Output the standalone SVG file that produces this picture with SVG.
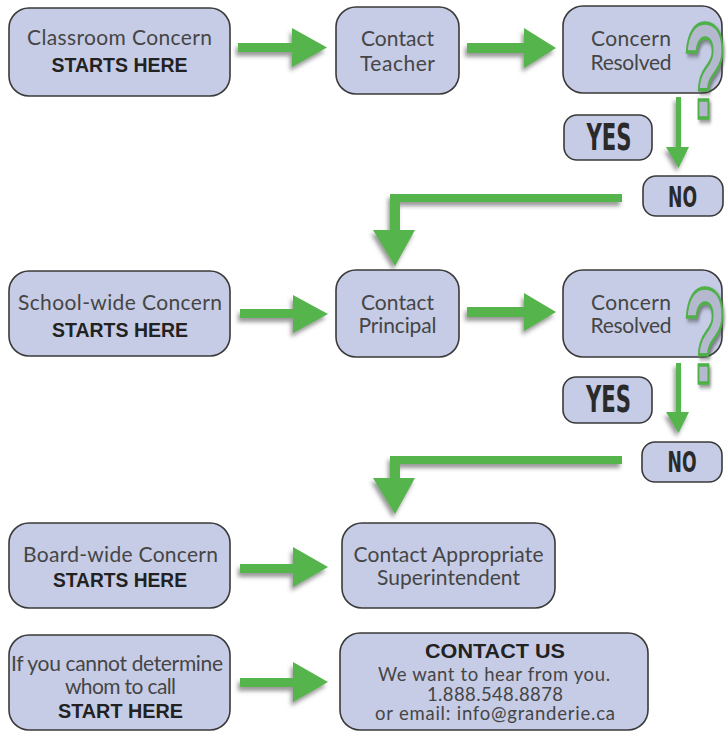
<svg xmlns="http://www.w3.org/2000/svg" width="728" height="732" viewBox="0 0 728 732">
<defs>
<style>
.box{fill:#c6cce6;stroke:#3a3a3a;stroke-width:1.6}
.arr{fill:#57b44e;filter:url(#sh)}
.t{font-family:Lato,'Open Sans',sans-serif;font-size:21px;fill:#454545;text-anchor:middle}
.s{font-family:Lato,'Open Sans',sans-serif;font-size:18.5px;fill:#454545;text-anchor:middle}
.b{font-family:'Liberation Sans',Arial,sans-serif;font-weight:bold;font-size:21px;fill:#222;text-anchor:middle}
.yn{font-family:'Liberation Sans Narrow','DejaVu Sans Condensed',sans-serif;font-weight:bold;fill:#2a2a2a;text-anchor:middle}
.q{font-family:'Liberation Sans',Arial,sans-serif;font-weight:bold;font-size:135px;fill:#b4b9cd;stroke:#4fb04a;stroke-width:3.5;text-anchor:middle;filter:url(#sh2)}
</style>
<filter id="sh" x="-20%" y="-30%" width="140%" height="170%">
<feDropShadow dx="-2" dy="4" stdDeviation="2" flood-color="#555" flood-opacity="0.6"/>
</filter>
<filter id="sh2" x="-40%" y="-20%" width="180%" height="140%">
<feDropShadow dx="3" dy="3" stdDeviation="2" flood-color="#444" flood-opacity="0.6"/>
</filter>
</defs>
<rect width="728" height="732" fill="#ffffff"/>

<g id="connectors">
<polygon class="arr" points="238,43 292,43 292,28 327,47.5 292,67 292,52 238,52"/>
<polygon class="arr" points="467,43 524,43 524,28 556,48 524,68 524,53 467,53"/>
<polygon class="arr" points="676,97 681,97 681,147 689,147 678.5,168 666,147 676,147"/>
<polygon class="arr" points="622,194 622,202 400,202 400,230 415,230 395,266 373,230 390,230 390,194"/>
<polygon class="arr" points="240,309 293,309 293,295 328,314 293,333 293,318 240,318"/>
<polygon class="arr" points="467,307 524,307 524,293 556,312 524,331 524,317 467,317"/>
<polygon class="arr" points="676,363 681,363 681,412 689,412 678.5,433 666,412 676,412"/>
<polygon class="arr" points="622,456 622,464 400,464 400,478 415,478 395,514 373,478 390,478 390,456"/>
<polygon class="arr" points="240,564 293,564 293,547 328,567 293,587 293,573 240,573"/>
<polygon class="arr" points="240,678 293,678 293,662 328,682 293,702 293,687 240,687"/>
</g>

<g id="classroom">
<rect class="box" x="9" y="8" width="221" height="88" rx="20"/>
<text class="t" x="119.5" y="45" textLength="185">Classroom Concern</text>
<text class="b" x="119.5" y="72" textLength="136" lengthAdjust="spacingAndGlyphs">STARTS HERE</text>
</g>
<g id="teacher">
<rect class="box" x="336" y="7" width="123" height="87" rx="20"/>
<text class="t" x="397.5" y="46" textLength="73">Contact</text>
<text class="t" x="397.5" y="71" textLength="75">Teacher</text>
</g>
<g id="resolved1">
<rect class="box" x="563" y="6" width="159" height="87" rx="20"/>
<text class="t" x="631" y="46" textLength="80">Concern</text>
<text class="t" x="631" y="70" textLength="81">Resolved</text>
<text class="q" transform="translate(705,118) scale(0.52,1)" x="0" y="0">?</text>
</g>
<g id="yes1">
<rect class="box" x="564" y="115" width="88" height="45" rx="13"/>
<text class="yn" x="609" y="150" font-size="37" textLength="45" lengthAdjust="spacingAndGlyphs">YES</text>
</g>
<g id="no1">
<rect class="box" x="643" y="176" width="80" height="40" rx="13"/>
<text class="yn" x="682.5" y="207" font-size="28" textLength="29" lengthAdjust="spacingAndGlyphs">NO</text>
</g>

<g id="schoolwide">
<rect class="box" x="9" y="271" width="221" height="85" rx="20"/>
<text class="t" x="120" y="310" textLength="204">School-wide Concern</text>
<text class="b" x="120" y="337" textLength="136" lengthAdjust="spacingAndGlyphs">STARTS HERE</text>
</g>
<g id="principal">
<rect class="box" x="336" y="270" width="123" height="87" rx="20"/>
<text class="t" x="397.5" y="310" textLength="73">Contact</text>
<text class="t" x="397.5" y="333" textLength="78">Principal</text>
</g>
<g id="resolved2">
<rect class="box" x="563" y="270" width="159" height="87" rx="20"/>
<text class="t" x="631" y="310" textLength="80">Concern</text>
<text class="t" x="631" y="333" textLength="81">Resolved</text>
<text class="q" transform="translate(705,383) scale(0.52,1)" x="0" y="0">?</text>
</g>
<g id="yes2">
<rect class="box" x="563" y="377" width="89" height="46" rx="13"/>
<text class="yn" x="608.5" y="412" font-size="37" textLength="45" lengthAdjust="spacingAndGlyphs">YES</text>
</g>
<g id="no2">
<rect class="box" x="642" y="442" width="80" height="40" rx="13"/>
<text class="yn" x="682" y="472" font-size="28" textLength="29" lengthAdjust="spacingAndGlyphs">NO</text>
</g>

<g id="boardwide">
<rect class="box" x="9" y="523" width="221" height="85" rx="20"/>
<text class="t" x="120.5" y="562" textLength="195">Board-wide Concern</text>
<text class="b" x="120" y="587" textLength="134" lengthAdjust="spacingAndGlyphs">STARTS HERE</text>
</g>
<g id="superintendent">
<rect class="box" x="342" y="523" width="213" height="85" rx="20"/>
<text class="t" x="448.5" y="562" font-size="20" textLength="190">Contact Appropriate</text>
<text class="t" x="448.5" y="585" font-size="20" textLength="143">Superintendent</text>
</g>

<g id="unsure">
<rect class="box" x="9" y="635" width="221" height="95" rx="20"/>
<text class="t" x="117" y="671" textLength="212">If you cannot determine</text>
<text class="t" x="120.5" y="694" textLength="111">whom to call</text>
<text class="b" x="120.5" y="718" textLength="125" lengthAdjust="spacingAndGlyphs">START HERE</text>
</g>
<g id="contactus">
<rect class="box" x="340" y="633" width="308" height="97" rx="20"/>
<text class="b" x="495" y="658" textLength="140" lengthAdjust="spacingAndGlyphs">CONTACT US</text>
<text class="s" x="494" y="681" textLength="232">We want to hear from you.</text>
<text class="s" x="495" y="701" textLength="136">1.888.548.8878</text>
<text class="s" x="495" y="720" textLength="240">or email: info@granderie.ca</text>
</g>
</svg>
